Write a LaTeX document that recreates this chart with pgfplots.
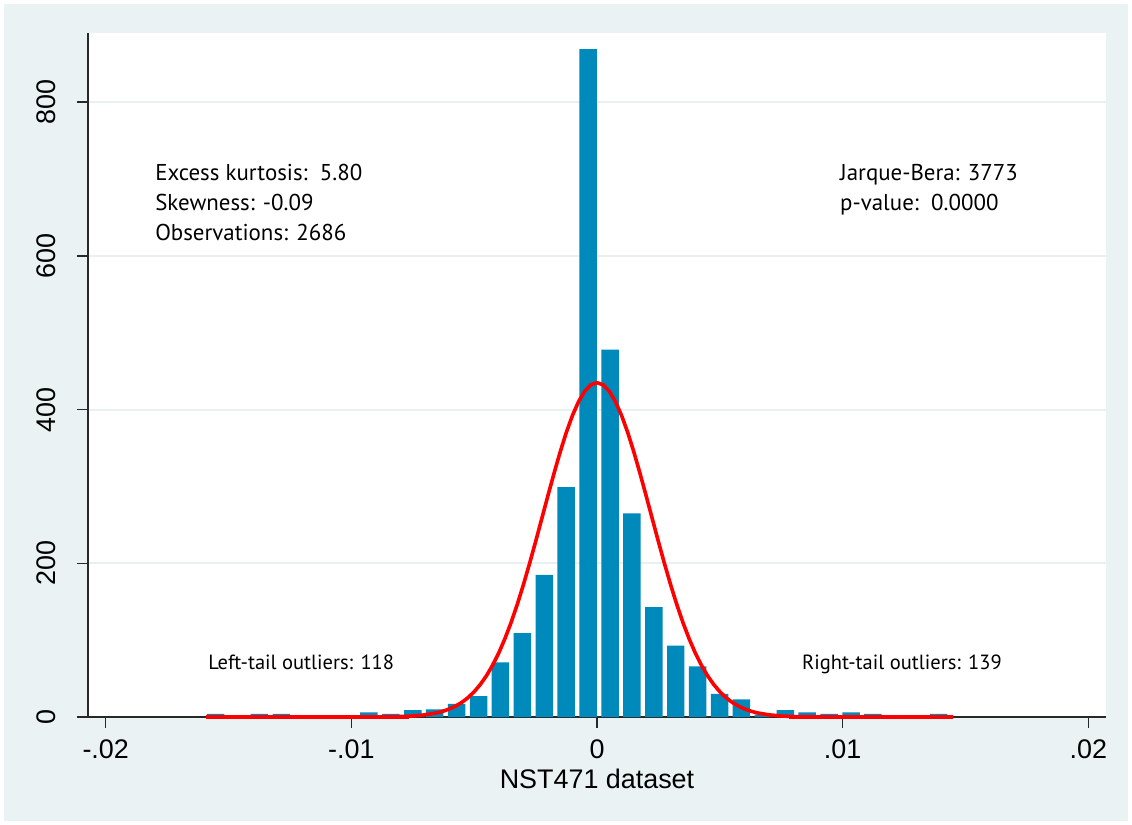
\documentclass[border=0pt]{standalone}
\usepackage{pgfplots}
\pgfplotsset{compat=1.18}
\usepackage{pgfplotstable}
\usepackage{fontspec}
\setmainfont{Liberation Sans}
\newfontfamily\annot{PT Sans}
\definecolor{bgc}{RGB}{234,242,243}
\definecolor{gridc}{RGB}{232,240,242}
\definecolor{barc}{RGB}{0,138,188}
\definecolor{axc}{RGB}{40,40,40}

\pgfplotstableread{
x y
-0.015527 4
-0.014635 0
-0.013743 4
-0.012851 4
-0.011959 0
-0.011067 0
-0.010175 0
-0.009283 6
-0.008391 4
-0.007499 9
-0.006607 10
-0.005715 17
-0.004823 27
-0.003931 71
-0.003039 109
-0.002147 185
-0.001255 299
-0.000363 869
0.000529 478
0.001421 265
0.002313 143
0.003205 93
0.004097 66
0.004989 30
0.005881 23
0.006773 3
0.007665 9
0.008557 6
0.009449 4
0.010341 6
0.011233 4
0.012125 0
0.013017 0
0.013909 4
}\bins

\pgfplotstableread{
x y
-0.0159 0
-0.0120 0
-0.0100 0.0
-0.0090 0.1
-0.0080 0.6
-0.0075 1.3
-0.0070 2.8
-0.0065 5.5
-0.00625 7.7
-0.0060 10.6
-0.00575 14.3
-0.0055 19.1
-0.00525 25.2
-0.0050 32.9
-0.00475 42.3
-0.0045 53.7
-0.00425 67.3
-0.0040 83.3
-0.00375 101.8
-0.0035 122.7
-0.00325 146.1
-0.0030 171.7
-0.00275 199.2
-0.0025 228.1
-0.00225 257.9
-0.0020 287.8
-0.00175 317.0
-0.0015 344.8
-0.00125 370.2
-0.0010 392.3
-0.00075 410.4
-0.0005 423.9
-0.00025 432.2
0.0 435.0
0.00025 432.2
0.0005 423.9
0.00075 410.4
0.0010 392.3
0.00125 370.2
0.0015 344.8
0.00175 317.0
0.0020 287.8
0.00225 257.9
0.0025 228.1
0.00275 199.2
0.0030 171.7
0.00325 146.1
0.0035 122.7
0.00375 101.8
0.0040 83.3
0.00425 67.3
0.0045 53.7
0.00475 42.3
0.0050 32.9
0.00525 25.2
0.0055 19.1
0.00575 14.3
0.0060 10.6
0.00625 7.7
0.0065 5.5
0.0070 2.8
0.0075 1.3
0.0080 0.6
0.0090 0.1
0.0100 0.0
0.0120 0
0.0145 0
}\curve

\begin{document}
\begin{tikzpicture}
\useasboundingbox (0,0) rectangle (1132bp,825bp);
\fill[white] (0,0) rectangle (1132bp,825bp);
\fill[bgc] (4bp,4bp) rectangle (1128bp,821bp);
\begin{axis}[
  at={(88bp,108bp)}, anchor=south west,
  scale only axis, width=1018bp, height=684bp,
  xmin=-0.02072, xmax=0.02072, ymin=0, ymax=890,
  scaled x ticks=false, scaled y ticks=false,
  axis background/.style={fill=white},
  axis x line*=bottom, axis y line*=left,
  axis line style={axc, line width=1.4bp, -},
  xtick={-0.02,-0.01,0,0.01,0.02},
  xticklabels={-.02,-.01,0,.01,.02},
  ytick={0,200,400,600,800},
  yticklabels={0,200,400,600,800},
  tick align=outside, major tick length=11bp,
  tick style={axc, line width=1.4bp},
  ymajorgrids, grid style={gridc, line width=2bp},
  ticklabel style={font=\fontsize{27}{32}\selectfont},
  yticklabel style={rotate=90, anchor=south, xshift=0bp, yshift=18bp},
  xticklabel style={anchor=north, yshift=-8bp},
  xlabel={NST471 dataset},
  xlabel style={font=\fontsize{27}{32}\selectfont, at={(axis description cs:0.5,-0.1038)}, anchor=base},
  clip=false,
]
\addplot[ybar, bar width=0.000712, fill=barc, draw=none] table[x=x,y=y] {\bins};
\addplot[red, line width=3.6bp, no marks] table[x=x,y=y] {\curve};
\addplot[red, line width=4.8bp, no marks] coordinates {(-0.0159,0) (-0.00766,0)};
\addplot[red, line width=4.8bp, no marks] coordinates {(0.00781,0) (0.01445,0)};
\node[anchor=base west, inner sep=0, font=\annot\fontsize{23}{27}\selectfont] at (axis cs:-0.01799,697.9) {Excess kurtosis:\ \ 5.80};
\node[anchor=base west, inner sep=0, font=\annot\fontsize{23}{27}\selectfont] at (axis cs:-0.01799,658.9) {Skewness: -0.09};
\node[anchor=base west, inner sep=0, font=\annot\fontsize{23}{27}\selectfont] at (axis cs:-0.01799,619.9) {Observations: 2686};
\node[anchor=base west, inner sep=0, font=\annot\fontsize{23}{27}\selectfont] at (axis cs:0.00989,697.9) {Jarque-Bera: 3773};
\node[anchor=base west, inner sep=0, font=\annot\fontsize{23}{27}\selectfont] at (axis cs:0.00989,658.9) {p-value:\ \ 0.0000};
\node[anchor=base west, inner sep=0, font=\annot\fontsize{20.6}{24}\selectfont] at (axis cs:-0.01583,61.8) {Left-tail outliers: 118};
\node[anchor=base west, inner sep=0, font=\annot\fontsize{20.6}{24}\selectfont] at (axis cs:0.00834,61.8) {Right-tail outliers: 139};
\end{axis}
\end{tikzpicture}
\end{document}
